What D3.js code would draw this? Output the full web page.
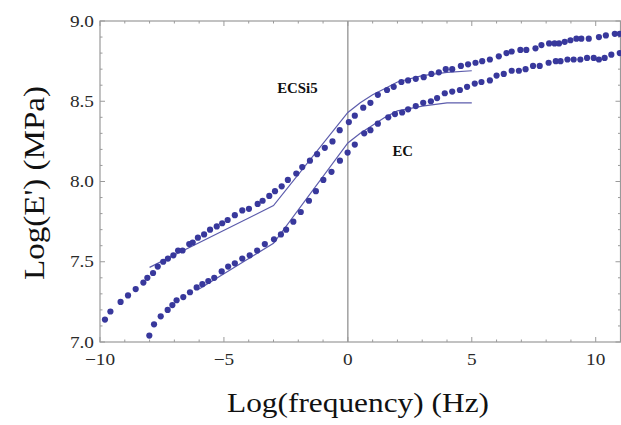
<!DOCTYPE html>
<html>
<head>
<meta charset="utf-8">
<script src="https://cdn.jsdelivr.net/npm/d3@7"></script>
<style>
  html, body { margin: 0; padding: 0; background: #fff; }
  svg text { font-family: 'Liberation Serif', 'Times New Roman', serif; }
</style>
</head>
<body>
<div id="chart"></div>
<script>
// ECSi5 measured points (upper series)
const ecsiX = [-9.8,-9.58,-9.17,-8.87,-8.56,-8.25,-8.09,-7.86,-7.67,-7.45,-7.26,-7.04,-6.85,-6.67,-6.4,
  -6.26,-6.05,-5.8,-5.56,-5.29,-5.07,-4.85,-4.56,-4.26,-3.99,-3.64,-3.44,-3.17,-2.94,-2.67,
  -2.42,-2.08,-1.84,-1.53,-1.24,-0.93,-0.62,-0.33,0.04,0.28,0.62,0.91,1.21,1.58,1.85,
  2.16,2.43,2.74,3.06,3.37,3.67,3.95,4.21,4.56,4.85,5.15,5.42,5.73,6.09,6.4,
  6.61,6.96,7.2,7.57,7.81,8.12,8.34,8.52,8.75,8.98,9.22,9.42,9.72,10.13,10.41,10.77,10.97];
const ecsiY = [7.14,7.19,7.25,7.29,7.33,7.37,7.40,7.43,7.47,7.50,7.52,7.54,7.57,7.57,7.61,
  7.62,7.65,7.67,7.70,7.72,7.74,7.76,7.79,7.82,7.83,7.86,7.88,7.91,7.94,7.97,
  8.01,8.05,8.09,8.13,8.17,8.21,8.25,8.32,8.37,8.41,8.46,8.49,8.54,8.57,8.59,
  8.62,8.63,8.64,8.65,8.67,8.68,8.70,8.70,8.72,8.73,8.74,8.75,8.76,8.78,8.80,
  8.81,8.82,8.82,8.83,8.85,8.86,8.86,8.86,8.87,8.88,8.89,8.89,8.89,8.90,8.91,8.92,8.92];

// EC measured points (lower series)
const ecX = [-8.01,-7.82,-7.55,-7.27,-7.08,-6.91,-6.64,-6.37,-6.1,-5.87,-5.63,-5.39,-5.09,-4.83,-4.56,
  -4.26,-3.96,-3.66,-3.35,-2.98,-2.7,-2.49,-2.2,-1.9,-1.57,-1.29,-0.99,-0.66,-0.32,-0.01,
  0.28,0.66,0.91,1.21,1.63,1.9,2.19,2.43,2.74,3.04,3.35,3.6,3.91,4.21,4.52,
  4.81,5.12,5.39,5.73,6.0,6.29,6.61,6.9,7.17,7.47,7.74,8.1,8.39,8.58,8.86,
  9.11,9.38,9.65,9.92,10.13,10.36,10.63,10.97];
const ecY = [7.04,7.11,7.16,7.20,7.23,7.26,7.28,7.31,7.34,7.36,7.38,7.40,7.44,7.47,7.49,
  7.52,7.54,7.57,7.61,7.64,7.67,7.70,7.75,7.81,7.88,7.94,8.01,8.06,8.13,8.18,
  8.23,8.30,8.32,8.36,8.40,8.42,8.43,8.45,8.47,8.49,8.50,8.52,8.55,8.56,8.57,
  8.59,8.61,8.62,8.63,8.66,8.67,8.69,8.69,8.70,8.72,8.72,8.74,8.75,8.75,8.76,
  8.76,8.76,8.77,8.77,8.76,8.77,8.79,8.80];

// model curves
const fitEcsiX = [-8, -3, 0, 0.5, 1, 1.5, 2, 3, 4, 5];
const fitEcsiY = [7.465, 7.85, 8.43, 8.49, 8.54, 8.58, 8.62, 8.66, 8.68, 8.69];
const fitEcX = [-6, -3, 0, 0.5, 1, 1.5, 2, 3, 4, 5];
const fitEcY = [7.33, 7.615, 8.24, 8.30, 8.35, 8.40, 8.44, 8.47, 8.49, 8.49];

const xTicks = [-10, -5, 0, 5, 10];
const yTicks = [7.0, 7.5, 8.0, 8.5, 9.0];
const xMinor = d3.range(-10, 11.01, 1);
const yMinor = d3.range(7, 9.001, 0.1);

const seriesLabels = [
  { text: 'ECSi5', x: -2.85, y: 8.55 },
  { text: 'EC', x: 1.8, y: 8.16 }
];

const W = 621, H = 425;
const m = { t: 21, r: 0.5, b: 83, l: 100 };

const svg = d3.select('#chart').append('svg')
  .attr('width', W).attr('height', H);

const x = d3.scaleLinear().domain([-10, 11]).range([m.l, W - m.r]);
const y = d3.scaleLinear().domain([7, 9]).range([H - m.b, m.t]);

const frameCol = '#9a9a9a';
const dotCol = '#38389c';
const lineCol = '#5c5cac';

// vertical axis line at x = 0
svg.append('line')
  .attr('x1', x(0)).attr('x2', x(0))
  .attr('y1', y(9)).attr('y2', y(7))
  .attr('stroke', '#8a8a8a').attr('stroke-width', 1.2);

// frame
svg.append('rect')
  .attr('x', x(-10)).attr('y', y(9))
  .attr('width', x(11) - x(-10)).attr('height', y(7) - y(9))
  .attr('fill', 'none').attr('stroke', frameCol).attr('stroke-width', 1.2);

// ticks on all four sides (inside)
const tk = svg.append('g').attr('stroke', frameCol).attr('stroke-width', 1);
xMinor.forEach(v => {
  const len = xTicks.includes(Math.round(v)) ? 5 : 2.5;
  tk.append('line').attr('x1', x(v)).attr('x2', x(v)).attr('y1', y(7)).attr('y2', y(7) - len);
  tk.append('line').attr('x1', x(v)).attr('x2', x(v)).attr('y1', y(9)).attr('y2', y(9) + len);
});
yMinor.forEach(v => {
  const major = Math.abs(v * 2 - Math.round(v * 2)) < 1e-6;
  const len = major ? 5 : 2.5;
  tk.append('line').attr('y1', y(v)).attr('y2', y(v)).attr('x1', x(-10)).attr('x2', x(-10) + len);
  tk.append('line').attr('y1', y(v)).attr('y2', y(v)).attr('x1', x(11)).attr('x2', x(11) - len);
});

// tick labels (the original lettering is a little wider than Times)
svg.append('g').selectAll('text').data(xTicks).join('text')
  .attr('transform', d => `translate(${x(d)},${y(7) + 23}) scale(1.17,1)`)
  .attr('text-anchor', 'middle')
  .attr('font-size', 16.5).attr('fill', '#2a2a2a')
  .text(d => d < 0 ? '\u2212' + Math.abs(d) : d);

svg.append('g').selectAll('text').data(yTicks).join('text')
  .attr('transform', d => `translate(${x(-10) - 6},${y(d) + 5.5}) scale(1.17,1)`)
  .attr('text-anchor', 'end')
  .attr('font-size', 16.5).attr('fill', '#2a2a2a')
  .text(d => d.toFixed(1));

// axis titles
svg.append('text')
  .attr('transform', 'translate(358,412) scale(1.12,1)')
  .attr('text-anchor', 'middle')
  .attr('font-size', 28).attr('fill', '#111')
  .text('Log(frequency) (Hz)');

svg.append('text')
  .attr('transform', 'translate(44,183) rotate(-90) scale(1.12,1)')
  .attr('text-anchor', 'middle')
  .attr('font-size', 29.5).attr('fill', '#111')
  .text("Log(E') (MPa)");

// model lines
const line = d3.line().x(d => x(d[0])).y(d => y(d[1]));
[[fitEcsiX, fitEcsiY], [fitEcX, fitEcY]].forEach(([xs, ys]) => {
  svg.append('path')
    .datum(xs.map((v, i) => [v, ys[i]]))
    .attr('d', line)
    .attr('fill', 'none').attr('stroke', lineCol).attr('stroke-width', 1.2);
});

// data points
[[ecsiX, ecsiY], [ecX, ecY]].forEach(([xs, ys]) => {
  svg.append('g').selectAll('circle')
    .data(xs.map((v, i) => [v, ys[i]]))
    .join('circle')
    .attr('cx', d => x(d[0])).attr('cy', d => y(d[1]))
    .attr('r', 3.1).attr('fill', dotCol);
});

// series labels
svg.append('g').selectAll('text').data(seriesLabels).join('text')
  .attr('transform', d => `translate(${x(d.x)},${y(d.y)}) scale(1.06,1)`)
  .attr('font-size', 14).attr('font-weight', 'bold').attr('fill', '#111')
  .text(d => d.text);
</script>
</body>
</html>
